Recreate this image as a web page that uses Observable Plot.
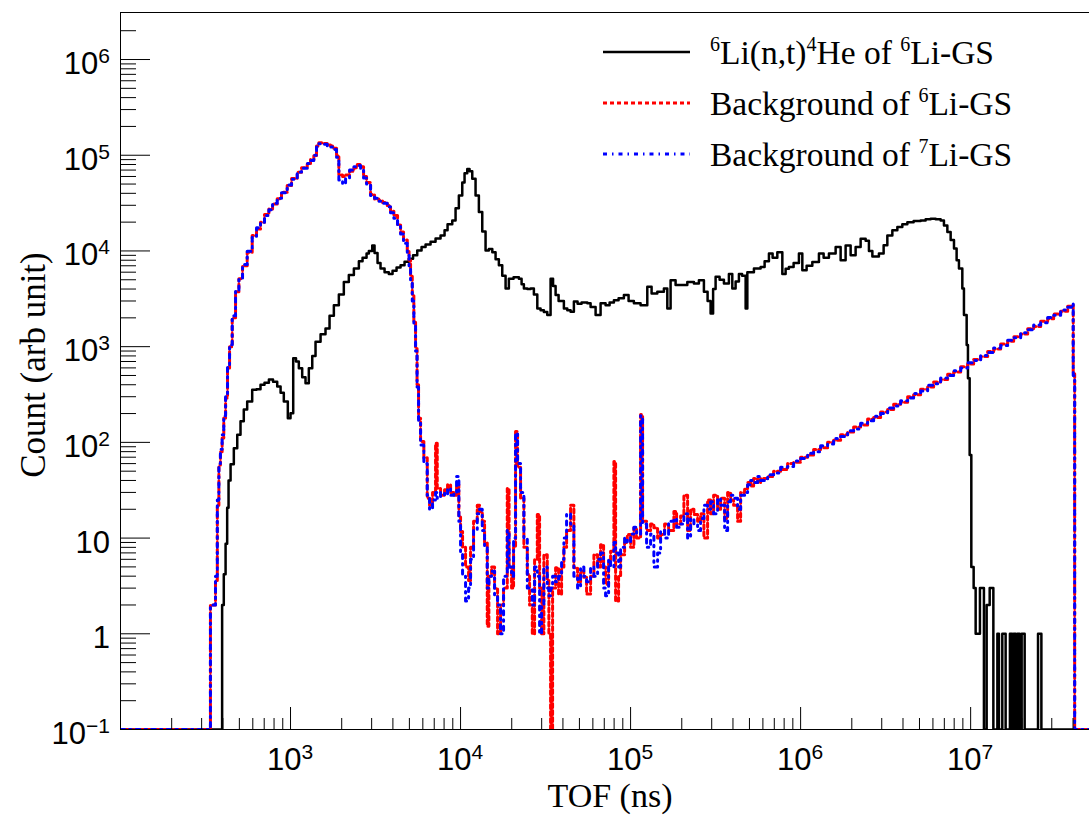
<!DOCTYPE html>
<html><head><meta charset="utf-8">
<script src="https://cdn.jsdelivr.net/npm/d3@7"></script>
<script src="https://cdn.jsdelivr.net/npm/@observablehq/plot@0.6"></script>
<style>body{margin:0;background:#fff} svg{display:block}</style>
</head><body><div id="chart"></div>
<script>
// ---- Signal: 6Li(n,t)4He of 6Li-GS (bin left edge in ns, counts)
const sigTOF = [
  100, 396, 405, 415, 424, 432, 444, 464, 486, 508,
  531, 556, 595, 631, 666, 703, 746, 789, 835, 874,
  913, 964, 1000, 1037, 1077, 1119, 1171, 1225, 1281, 1342,
  1403, 1502, 1606, 1696, 1798, 1924, 2058, 2202, 2358, 2523,
  2652, 2800, 2888, 3024, 3120, 3249, 3383, 3573, 3785, 3981,
  4203, 4437, 4683, 4965, 5255, 5562, 5897, 6226, 6661, 7127,
  7627, 8052, 8386, 8938, 9346, 9772, 10233, 10556, 10950, 11295,
  11717, 12252, 12815, 13415, 14030, 14671, 15370, 16067, 16800, 17590,
  18400, 19235, 20500, 22030, 22850, 23575, 24690, 25810, 26990, 28270,
  29550, 30900, 32360, 33840, 35000, 36220, 37720, 40520, 42430, 44370,
  46400, 48770, 51500, 55640, 58180, 62260, 66610, 71270, 75250, 79770,
  85000, 91320, 97310, 1.0457e5, 1.145e5, 1.2538e5, 1.3289e5, 1.4357e5, 1.57e5, 1.6443e5,
  1.719e5, 1.8392e5, 1.9686e5, 2.1556e5, 2.3573e5, 2.5223e5, 2.699e5, 2.837e5, 2.955e5, 3.057e5,
  3.1623e5, 3.338e5, 3.539e5, 3.786e5, 3.964e5, 4.146e5, 4.336e5, 4.527e5, 4.749e5, 4.86e5,
  5.313e5, 5.818e5, 6.141e5, 6.511e5, 6.843e5, 7.294e5, 7.806e5, 8.162e5, 8.534e5, 9.095e5,
  9.772e5, 1.0233e6, 1.0846e6, 1.1717e6, 1.2815e6, 1.3655e6, 1.4671e6, 1.6067e6, 1.719e6, 1.8392e6,
  1.9686e6, 2.106e6, 2.254e6, 2.4124e6, 2.5223e6, 2.642e6, 2.887e6, 3.0775e6, 3.2359e6, 3.463e6,
  3.706e6, 3.964e6, 4.243e6, 4.62e6, 5.079e6, 5.436e6, 5.818e6, 6.226e6, 6.661e6, 6.965e6,
  7.294e6, 7.627e6, 7.98e6, 8.269e6, 8.534e6, 8.933e6, 9.132e6, 9.474e6, 9.641e6, 9.865e6,
  1.009e7, 1.0414e7, 1.07e7, 1.134e7, 1.197e7, 1.242e7, 1.294e7, 1.36e7, 1.436e7, 1.467e7,
  1.535e7, 1.606e7, 1.702e7, 1.754e7, 1.79e7, 1.84e7, 1.883e7, 1.94e7, 1.995e7, 2.078e7,
  2.49e7, 2.606e7, 4e7
];
const sigCount = [
  0, 2, 4.2, 8.7, 20.7, 40, 59, 87, 120, 166,
  220, 267, 355, 360, 400, 420, 453, 430, 383, 330,
  267, 179, 202, 755, 700, 594, 480, 414, 594, 800,
  1127, 1350, 1550, 2100, 2716, 3500, 4750, 5600, 6540, 7800,
  8500, 9380, 10000, 11400, 9500, 7500, 6540, 6000, 5760, 6200,
  6700, 7070, 7700, 8300, 9000, 10100, 11000, 11700, 12500, 13500,
  14500, 16500, 19000, 20800, 28000, 38000, 52000, 65000, 72000, 68000,
  56700, 38000, 25500, 16000, 10100, 10500, 9700, 8200, 7070, 5500,
  4050, 5130, 5300, 5130, 4500, 4050, 4000, 4050, 3500, 2500,
  2400, 2300, 2140, 5130, 4300, 3460, 3000, 2500, 2400, 2320,
  2960, 2800, 2900, 2840, 2600, 2140, 2840, 2700, 2900, 3060,
  3200, 3460, 3000, 2840, 2716, 4220, 3600, 3740, 4050, 2500,
  4930, 4400, 4420, 4750, 4570, 4930, 3740, 3000, 2220, 4000,
  5390, 5000, 4570, 5760, 4050, 4800, 5760, 5500, 2500, 5980,
  6540, 6810, 7800, 9380, 8500, 9700, 5760, 6500, 6810, 7500,
  9380, 6300, 7000, 7680, 9380, 8500, 9380, 11000, 8000, 11400,
  9000, 11000, 13400, 12800, 10000, 8740, 9380, 11500, 14500, 16500,
  17800, 19000, 19900, 20500, 20800, 21500, 21700, 21500, 20800, 18500,
  15800, 13000, 10600, 8000, 6540, 4050, 2140, 1040, 467, 74,
  5, 3, 1, 3, 0, 2, 3, 0, 1, 0,
  1, 0, 1, 0, 1, 0, 1, 0, 1, 0,
  1, 0, 0
];

// ---- Backgrounds (shared bin left edges in ns)
const bgTOF = [
  100, 338, 362, 371, 379, 387, 396, 405, 415, 426,
  438, 454, 475, 497, 522, 556, 595, 631, 666, 703,
  746, 784, 835, 885, 956, 1014, 1095, 1161, 1254, 1311,
  1371, 1422, 1467, 1542, 1644, 1719, 1798, 1865, 1924, 2023,
  2107, 2224, 2358, 2469, 2582, 2689, 2800, 2956, 3120, 3306,
  3477, 3706, 3874, 4053, 4260, 4437, 4620, 4860, 4979, 5081,
  5200, 5313, 5437, 5548, 5662, 5818, 6083, 6369, 6570, 6843,
  7127, 7293, 7627, 8052, 8386, 8736, 9132, 9474, 9772, 10000,
  10275, 10700, 11145, 11450, 11925, 12537, 12935, 13415, 13841, 14356,
  14671, 15220, 15849, 16505, 17190, 17900, 18825, 19290, 19953, 20500,
  21060, 21640, 22540, 23575, 24690, 25460, 26420, 27250, 28270, 29160,
  29960, 30900, 32360, 33070, 33840, 34770, 36220, 37720, 39280, 40520,
  42030, 44370, 46400, 48770, 50790, 53110, 55100, 58180, 60840, 63960,
  66610, 69370, 71270, 74230, 76270, 79770, 81620, 85000, 87360, 92200,
  95630, 1.0e5, 1.0457e5, 1.0846e5, 1.145e5, 1.1764e5, 1.2418e5, 1.3109e5, 1.371e5, 1.4413e5,
  1.5013e5, 1.5849e5, 1.673e5, 1.7975e5, 1.8646e5, 1.9686e5, 2.0585e5, 2.1643e5, 2.2538e5, 2.3573e5,
  2.478e5, 2.581e5, 2.699e5, 2.837e5, 2.955e5, 3.0775e5, 3.249e5, 3.384e5, 3.5725e5, 3.721e5,
  3.874e5, 4.035e5, 4.26e5, 4.437e5, 4.683e5, 4.877e5, 5.079e5, 5.29e5, 5.585e5, 5.818e5,
  6.396e5, 6.937e5, 7.627e5, 8.386e5, 9.095e5, 1.0e6, 1.0995e6, 1.1925e6, 1.3109e6, 1.4413e6,
  1.5635e6, 1.719e6, 1.89e6, 2.05e6, 2.254e6, 2.478e6, 2.688e6, 2.955e6, 3.249e6, 3.525e6,
  3.874e6, 4.26e6, 4.62e6, 5.079e6, 5.585e6, 6.058e6, 6.661e6, 7.323e6, 7.943e6, 8.736e6,
  9.603e6, 1.0414e7, 1.145e7, 1.2589e7, 1.3655e7, 1.5013e7, 1.6505e7, 1.79e7, 1.9686e7, 2.1643e7,
  2.348e7, 2.581e7, 2.837e7, 3.0775e7, 3.384e7, 3.721e7, 3.928e7, 4.01e7, 4.09e7, 5e7
];
const bg6Li = [
  0, 2, 3.6, 22, 58, 80, 111, 180, 290, 600,
  1000, 2000, 3740, 5130, 7000, 9700, 14500, 17000, 19900, 24000,
  27400, 31000, 35100, 41000, 48300, 57000, 66600, 74000, 81000, 90000,
  99000, 125000, 135000, 133000, 128000, 125000, 118000, 100000, 62000, 60000,
  62000, 68000, 74000, 80000, 76000, 60000, 52000, 39000, 35000, 33600,
  32000, 29800, 26000, 23400, 19000, 15800, 13000, 10000, 8000, 5500,
  3460, 1800, 960, 400, 179, 102, 69, 26, 22, 30,
  98, 33, 28, 32, 36, 30, 28, 36, 17, 11.7,
  8, 5, 3.6, 8, 15, 22, 19, 15, 9, 1.2,
  4, 5, 3, 1, 2, 3, 33, 5, 3, 8,
  130, 55, 26, 8, 4.2, 2, 1, 6, 17.6, 3,
  1, 6.7, 3.6, 1, 0, 3, 4.9, 2.6, 5, 8,
  12, 22, 4.9, 3.5, 4.5, 3.9, 2.6, 4, 6.7, 5,
  8.5, 5, 3.3, 5.5, 7.3, 63, 2.2, 4, 6.7, 9,
  10.9, 8, 12.8, 10, 195, 15, 12, 14, 12.8, 10,
  10.9, 14, 12, 19, 14, 17, 28, 12, 20, 17.6,
  15, 18, 10, 25, 18, 28, 20, 26, 16, 30,
  25, 22, 15, 30, 33, 38, 35, 42, 38, 42,
  44, 50, 52, 60, 62, 70, 74, 84, 88, 100,
  105, 120, 128, 145, 152, 175, 182, 208, 220, 250,
  262, 300, 315, 358, 380, 428, 455, 515, 545, 615,
  660, 735, 790, 890, 945, 1065, 1140, 1270, 1360, 1540,
  1620, 1840, 1960, 2190, 2350, 2640, 2720, 520, 0, 0
];
const bg7Li = [
  0, 2, 4, 25, 60, 85, 120, 190, 300, 620,
  1050, 2100, 3800, 5200, 7200, 9900, 14200, 17500, 20000, 23500,
  27000, 31500, 35500, 40500, 49000, 56000, 67000, 73000, 82000, 88000,
  100000, 122000, 132000, 130000, 125000, 122000, 115000, 95000, 55000, 50000,
  58000, 70000, 76000, 78000, 72000, 58000, 50000, 38000, 35500, 33000,
  31500, 29000, 25000, 22000, 18000, 15000, 12000, 9000, 7000, 5000,
  3000, 1700, 900, 380, 170, 94, 60, 28, 20, 25,
  30, 26, 30, 28, 33, 28, 30, 44, 15, 7,
  4, 2.2, 3, 6, 12, 18, 20, 12, 8, 3,
  4, 4.5, 2.5, 2, 1, 4, 12, 5, 4, 10,
  125, 60, 30, 10, 3, 3, 2, 5, 4, 1,
  2, 5, 3, 2.5, 3, 4, 3.5, 4, 6, 10,
  18, 14, 4, 3, 5, 4, 3.5, 5, 4, 6,
  7, 3, 2.5, 6, 5, 9, 7, 5, 8, 10,
  9, 11, 13, 11, 190, 14, 8, 11, 5, 7,
  12, 10, 15, 16, 13, 14, 18, 10, 16, 14,
  12, 16, 22, 20, 24, 18, 26, 22, 12, 24,
  28, 26, 20, 28, 30, 36, 40, 38, 44, 40,
  46, 48, 55, 56, 64, 68, 77, 80, 92, 96,
  110, 115, 132, 138, 158, 168, 188, 200, 228, 240,
  272, 290, 325, 345, 395, 410, 470, 500, 560, 600,
  680, 715, 810, 870, 970, 1030, 1170, 1240, 1400, 1500,
  1680, 1780, 2020, 2130, 2420, 2580, 2800, 500, 0, 0
];

// ---- Axis tick labels
const xLabelValues = [1e3, 1e4, 1e5, 1e6, 1e7];
const xLabelBase = ["10", "10", "10", "10", "10"];
const xLabelExp = ["3", "4", "5", "6", "7"];
const yLabelValues = [1e6, 1e5, 1e4, 1e3, 1e2, 10, 1, 0.1];
const yLabelBase = ["10", "10", "10", "10", "10", "10", "1", "10"];
const yLabelExp = ["6", "5", "4", "3", "2", "", "", "\u22121"];

// ---- Legend
const legendColors = ["#000000", "#ff0000", "#0000ff"];
const legendDash = [null, "4,3", "4,5,1.5,5"];
const legendParts = [
  [["6", 1], ["Li(n,t)", 0], ["4", 1], ["He of ", 0], ["6", 1], ["Li-GS", 0]],
  [["Background of ", 0], ["6", 1], ["Li-GS", 0]],
  [["Background of ", 0], ["7", 1], ["Li-GS", 0]]
];

const FLOOR = 0.1;
const sig = sigTOF.map((t, i) => ({t, c: Math.max(sigCount[i], FLOOR)}));
const b6 = bgTOF.map((t, i) => ({t, c: Math.max(bg6Li[i], FLOOR)}));
const b7 = bgTOF.map((t, i) => ({t, c: Math.max(bg7Li[i], FLOOR)}));

const xMajor = [1e2, 1e3, 1e4, 1e5, 1e6, 1e7];
const xMinor = xMajor.flatMap(d => d3.range(2, 10).map(k => k * d)).filter(v => v < 5e7);
const yMajor = [0.1, 1, 10, 1e2, 1e3, 1e4, 1e5, 1e6];
const yMinor = yMajor.flatMap(d => d3.range(2, 10).map(k => k * d)).filter(v => v < 2.5e6);

const plot = Plot.plot({
  width: 1089, height: 815,
  marginLeft: 120, marginRight: 0, marginTop: 12, marginBottom: 86,
  x: {type: "log", domain: [100, 5e7]},
  y: {type: "log", domain: [0.1, 3.1e6]},
  style: {background: "white", color: "black", fontFamily: "Liberation Sans, Arial, sans-serif"},
  marks: [
    Plot.line(sig, {x: "t", y: "c", curve: "step-after", stroke: "black", strokeWidth: 2.5, clip: true}),
    Plot.line(b6, {x: "t", y: "c", curve: "step-after", stroke: legendColors[1], strokeWidth: 3, strokeDasharray: legendDash[1], clip: true}),
    Plot.line(b7, {x: "t", y: "c", curve: "step-after", stroke: legendColors[2], strokeWidth: 3, strokeDasharray: legendDash[2], clip: true}),
    Plot.axisX(xMajor, {anchor: "bottom", tickSize: 22, dy: -22, tickFormat: () => "", label: null}),
    Plot.axisX(xMinor, {anchor: "bottom", tickSize: 11, dy: -11, tickFormat: () => "", label: null}),
    Plot.axisY(yMajor, {anchor: "left", tickSize: 30, dx: 30, tickFormat: () => "", label: null}),
    Plot.axisY(yMinor, {anchor: "left", tickSize: 16, dx: 16, tickFormat: () => "", label: null}),
    Plot.frame({stroke: "black", strokeWidth: 1})
  ]
});

const svg = d3.select(plot);
const xs = plot.scale("x"), ys = plot.scale("y");

const gl = svg.append("g").attr("font-family", "Liberation Sans, Arial, sans-serif").attr("fill", "black");
xLabelValues.forEach((v, i) => {
  const t = gl.append("text").attr("x", xs.apply(v)).attr("y", 770).attr("text-anchor", "middle").attr("font-size", 31);
  t.append("tspan").text(xLabelBase[i]);
  t.append("tspan").attr("font-size", 21).attr("dy", -11).text(xLabelExp[i]);
});
yLabelValues.forEach((v, i) => {
  const t = gl.append("text").attr("x", 110).attr("y", ys.apply(v) + 15).attr("text-anchor", "end").attr("font-size", 31);
  t.append("tspan").text(yLabelBase[i]);
  if (yLabelExp[i]) t.append("tspan").attr("font-size", 21).attr("dy", -11).text(yLabelExp[i]);
});

const gt = svg.append("g").attr("font-family", "Liberation Serif, Times New Roman, serif").attr("fill", "black");
gt.append("text").attr("x", 610).attr("y", 807).attr("text-anchor", "middle").attr("font-size", 34).text("TOF (ns)");
gt.append("text").attr("transform", "translate(45,365) rotate(-90)").attr("text-anchor", "middle").attr("font-size", 35).text("Count (arb unit)");

const lg = svg.append("g").attr("font-family", "Liberation Serif, Times New Roman, serif").attr("fill", "black").attr("text-anchor", "start");
legendParts.forEach((parts, i) => {
  const ly = 52 + i * 51;
  const ln = lg.append("line").attr("x1", 603).attr("x2", 690).attr("y1", ly).attr("y2", ly)
    .attr("stroke", legendColors[i]).attr("stroke-width", i === 0 ? 2.5 : 3);
  if (legendDash[i]) ln.attr("stroke-dasharray", legendDash[i]);
  const t = lg.append("text").attr("x", 710).attr("y", ly + 12).attr("font-size", 33.5).attr("text-anchor", "start");
  let raised = false;
  parts.forEach(([s, sup]) => {
    const sp = t.append("tspan").text(s);
    if (sup && !raised) { sp.attr("font-size", 20).attr("dy", -13); raised = true; }
    else if (!sup && raised) { sp.attr("dy", 13); raised = false; }
  });
});

document.getElementById("chart").appendChild(plot);
</script>
</body></html>
